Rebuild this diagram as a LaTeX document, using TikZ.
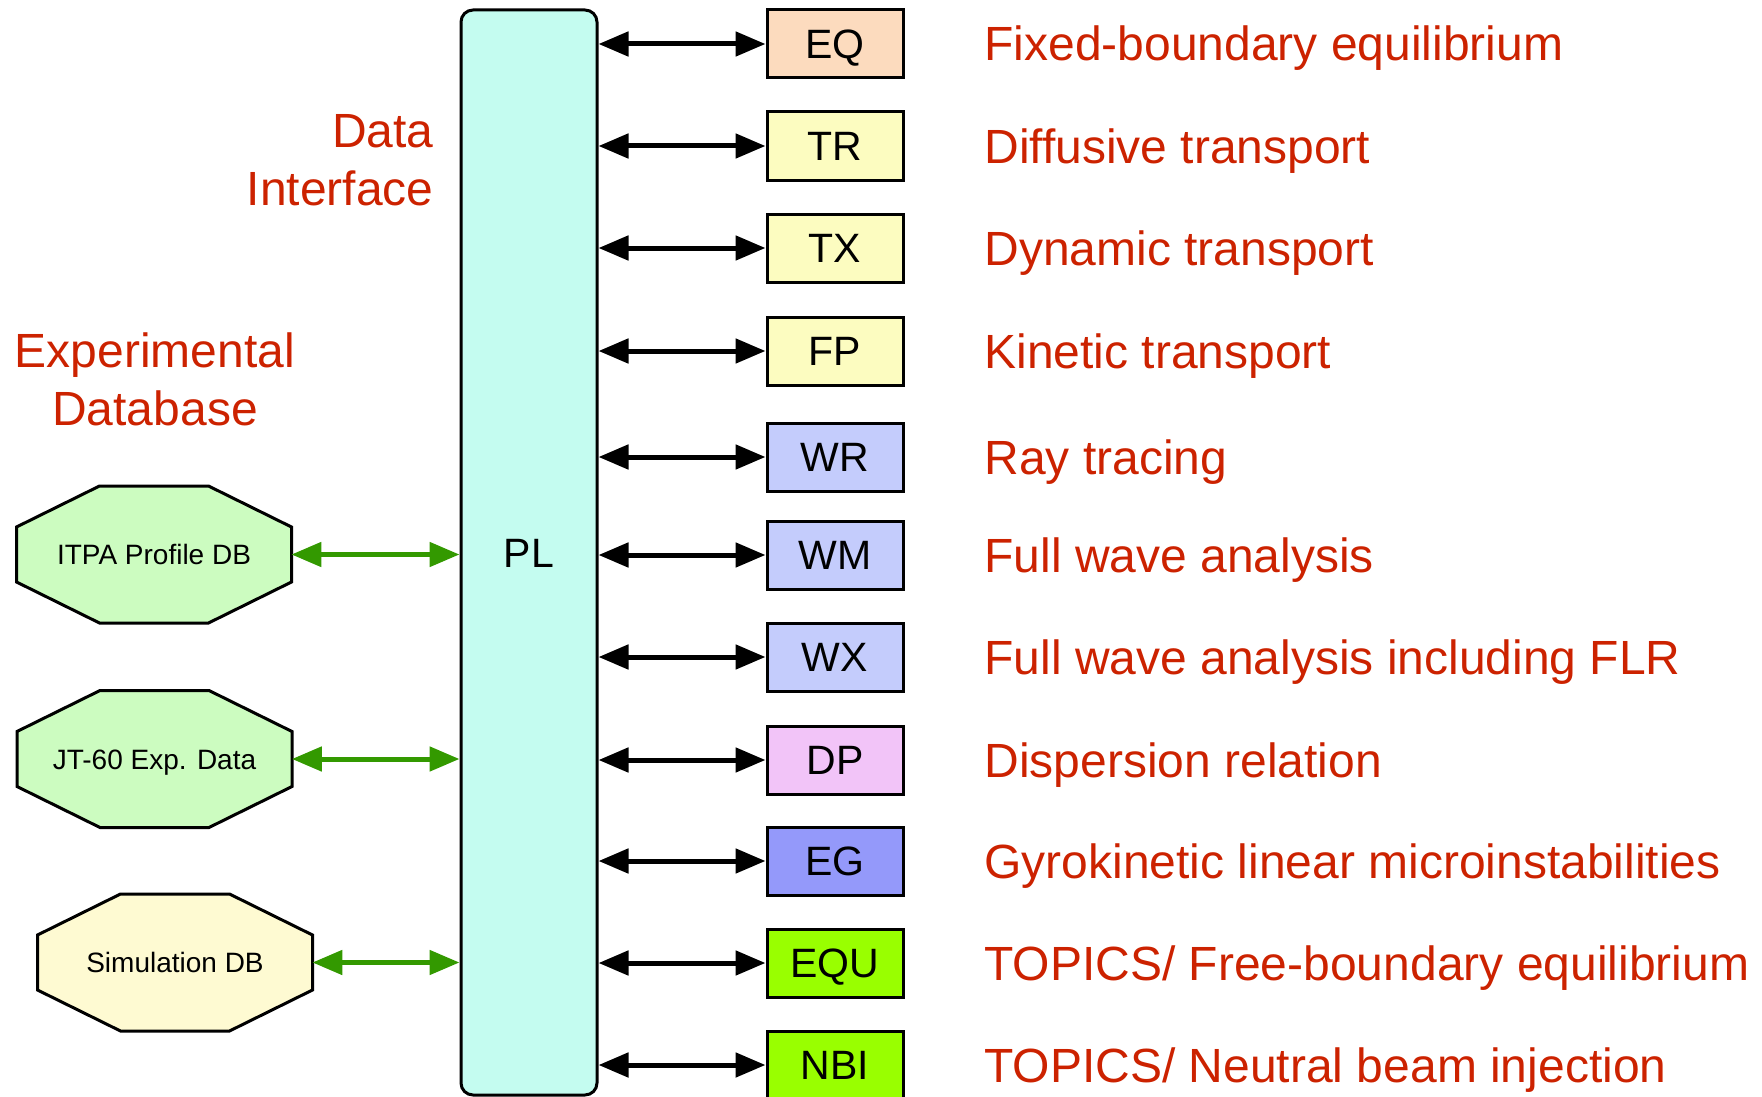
\documentclass[tikz,border=0pt]{standalone}
\usepackage{fontspec}
\setmainfont{Liberation Sans}
\usepackage{xcolor}
\usepackage{tikz}
\usetikzlibrary{arrows.meta}
\usetikzlibrary{backgrounds}
\definecolor{labelred}{HTML}{CC2200}
\definecolor{arrowgreen}{HTML}{339900}
\definecolor{plcyan}{HTML}{C4FCF0}
\definecolor{eqpeach}{HTML}{FCDBBE}
\definecolor{tryellow}{HTML}{FCFCC0}
\definecolor{wavelilac}{HTML}{C4CCFC}
\definecolor{dppink}{HTML}{F2C4F8}
\definecolor{egblue}{HTML}{9499FA}
\definecolor{topicslime}{HTML}{99FF00}
\definecolor{dbgreen}{HTML}{CCFCC0}
\definecolor{simyellow}{HTML}{FEFAD2}

\begin{document}
\begin{tikzpicture}[x=0.5pt,y=-0.5pt,
  module/.style={draw=black,line width=1.5pt,minimum width=68pt,minimum height=34pt,inner sep=0pt,
    text height=14.7pt,text depth=0pt,font=\fontsize{20.5pt}{24pt}\selectfont},
  plbox/.style={draw=black,line width=1.5pt,rounded corners=6pt,fill=plcyan,minimum width=68pt,
    minimum height=542.5pt,inner sep=0pt,text height=14.7pt,text depth=0pt,font=\fontsize{20.5pt}{24pt}\selectfont},
  dbase/.style={minimum width=137pt,minimum height=68.5pt,inner sep=0pt,
    text height=10pt,text depth=0pt,font=\fontsize{14pt}{17pt}\selectfont},
  octline/.style={draw=black,line width=1.5pt,line join=miter},
  desc/.style={anchor=base west,inner sep=0pt,text=labelred,font=\fontsize{24pt}{29pt}\selectfont},
  link/.style={line width=2.5pt,>={Triangle[length=15pt,width=12pt]},<->},
  dblink/.style={link,draw=arrowgreen}]
\useasboundingbox (0,0) rectangle (1762,1097);
\clip (0,0) rectangle (1762,1097);

\node[plbox] (pl) at (529,552.5) {PL};

\node[module,fill=eqpeach] (eq) at (835,44) {EQ};
\node[module,fill=tryellow] (tr) at (835,146) {TR};
\node[module,fill=tryellow] (tx) at (835,248) {TX};
\node[module,fill=tryellow] (fp) at (835,351) {FP};
\node[module,fill=wavelilac] (wr) at (835,457) {WR};
\node[module,fill=wavelilac] (wm) at (835,555) {WM};
\node[module,fill=wavelilac] (wx) at (835,657) {WX};
\node[module,fill=dppink] (dp) at (835,760) {DP};
\node[module,fill=egblue] (eg) at (835,861) {EG};
\node[module,fill=topicslime] (equ) at (835,963) {EQU};
\node[module,fill=topicslime] (nbi) at (835,1065) {NBI};

\draw[link] (pl.east |- eq) -- (eq);
\draw[link] (pl.east |- tr) -- (tr);
\draw[link] (pl.east |- tx) -- (tx);
\draw[link] (pl.east |- fp) -- (fp);
\draw[link] (pl.east |- wr) -- (wr);
\draw[link] (pl.east |- wm) -- (wm);
\draw[link] (pl.east |- wx) -- (wx);
\draw[link] (pl.east |- dp) -- (dp);
\draw[link] (pl.east |- eg) -- (eg);
\draw[link] (pl.east |- equ) -- (equ);
\draw[link] (pl.east |- nbi) -- (nbi);

\node[desc] (eqtext) at (984,61) {Fixed-boundary equilibrium};
\node[desc] (trtext) at (984,163) {Diffusive transport};
\node[desc] (txtext) at (984,265) {Dynamic transport};
\node[desc] (fptext) at (984,368) {Kinetic transport};
\node[desc] (wrtext) at (984,474) {Ray tracing};
\node[desc] (wmtext) at (984,572) {Full wave analysis};
\node[desc] (wxtext) at (984,674) {Full wave analysis including FLR};
\node[desc] (dptext) at (984,777) {Dispersion relation};
\node[desc] (egtext) at (984,878) {Gyrokinetic linear microinstabilities};
\node[desc] (equtext) at (984,980) {TOPICS/ Free-boundary equilibrium};
\node[desc] (nbitext) at (984,1082) {TOPICS/ Neutral beam injection};

\node[anchor=east,align=right,inner sep=0pt,text=labelred,font=\fontsize{24pt}{29pt}\selectfont]
  (iface) at (434,160) {Data\\Interface};
\node[align=center,inner sep=0pt,text=labelred,font=\fontsize{24pt}{29pt}\selectfont]
  (expdb) at (155,379.5) {Experimental\\Database};

\node[dbase] (itpa) at (154,554.5) {ITPA Profile DB};
\node[dbase] (jt) at (154.5,759) {JT-60 Exp. Data};
\node[dbase] (sim) at (175,962.5) {Simulation DB};
\begin{scope}[on background layer]
\draw[octline,fill=dbgreen] (itpa.center) ++(-54.5,-68.5) -- ++(109,0) -- ++(83,41) -- ++(0,55)
  -- ++(-83,41) -- ++(-109,0) -- ++(-83,-41) -- ++(0,-55) -- cycle;
\draw[octline,fill=dbgreen] (jt.center) ++(-54.5,-68.5) -- ++(109,0) -- ++(83,41) -- ++(0,55)
  -- ++(-83,41) -- ++(-109,0) -- ++(-83,-41) -- ++(0,-55) -- cycle;
\draw[octline,fill=simyellow] (sim.center) ++(-54.5,-68.5) -- ++(109,0) -- ++(83,41) -- ++(0,55)
  -- ++(-83,41) -- ++(-109,0) -- ++(-83,-41) -- ++(0,-55) -- cycle;
\end{scope}

\draw[dblink] (itpa) -- (pl.west |- itpa);
\draw[dblink] (jt) -- (pl.west |- jt);
\draw[dblink] (sim) -- (pl.west |- sim);
\end{tikzpicture}
\end{document}
